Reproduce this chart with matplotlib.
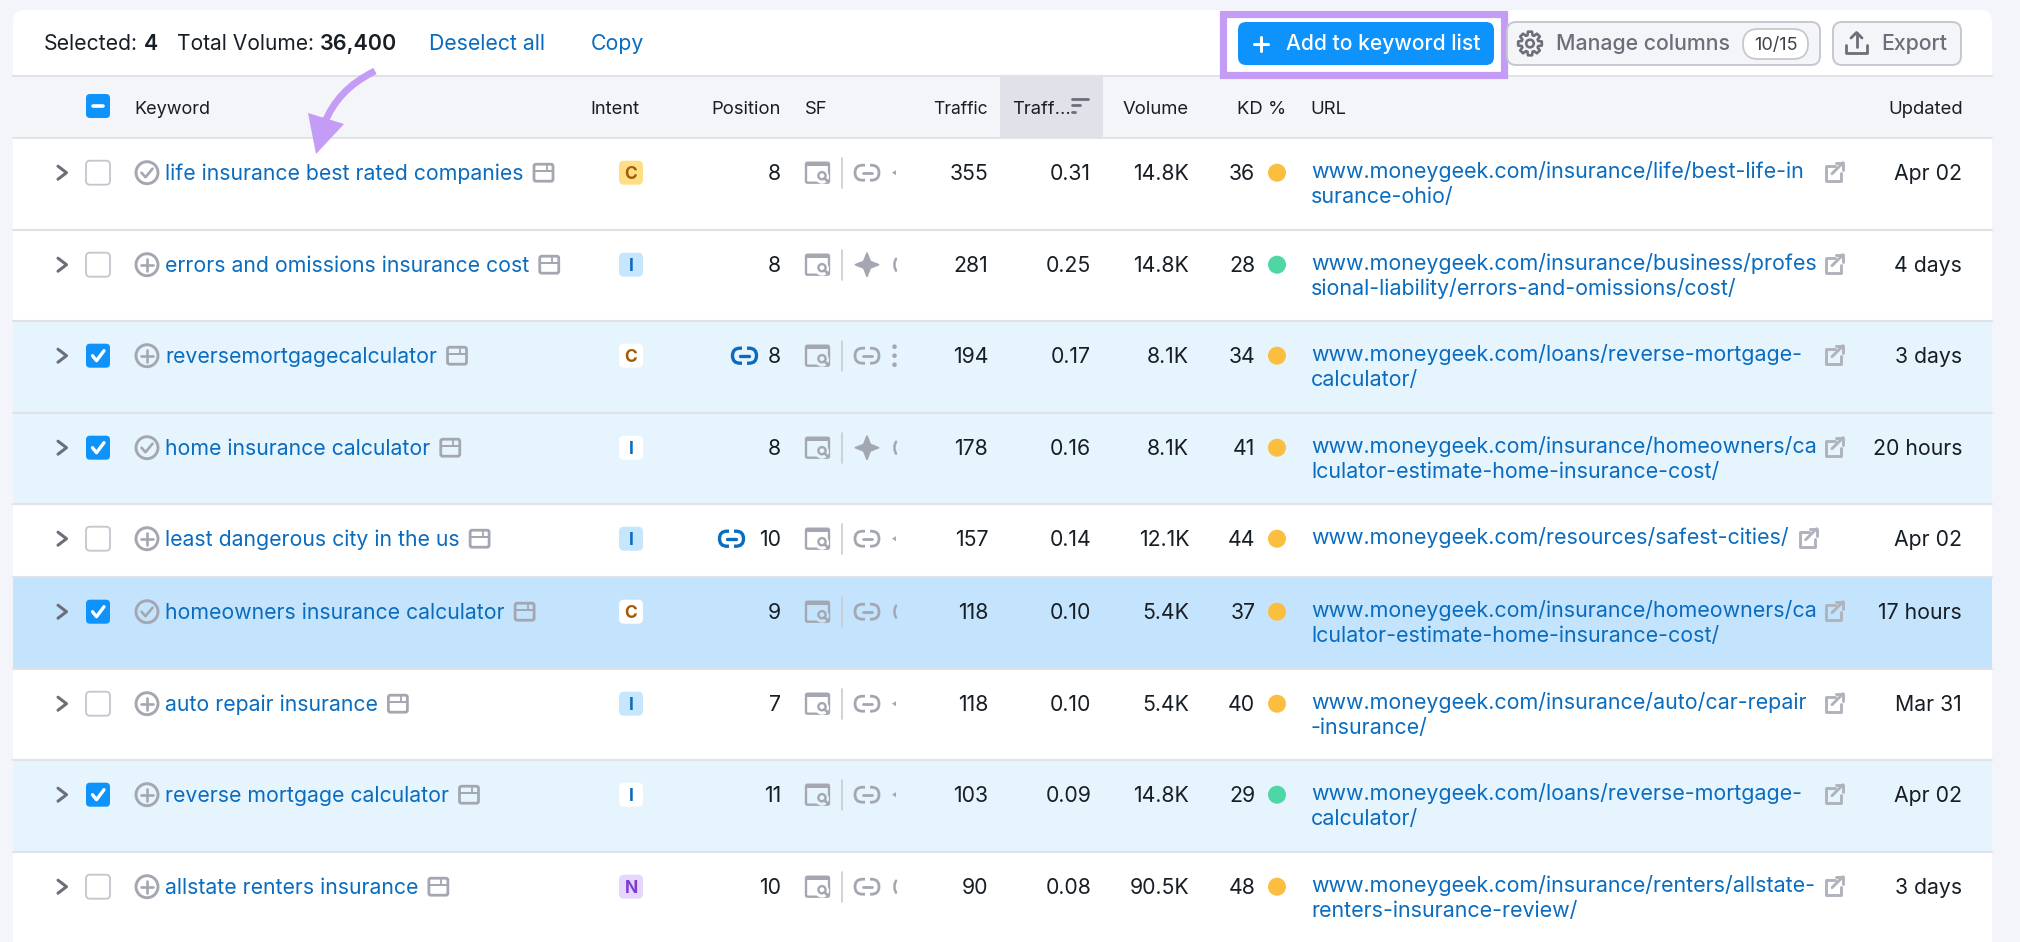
import math
import matplotlib
matplotlib.use("Agg")
import matplotlib.pyplot as plt
from matplotlib.patches import FancyBboxPatch, Circle, Rectangle, Polygon, PathPatch
from matplotlib.path import Path

plt.rcParams['font.family'] = ['Inter', 'DejaVu Sans']

# ---------- data ----------
keywords = ["life insurance best rated companies", "errors and omissions insurance cost",
            "reversemortgagecalculator", "home insurance calculator", "least dangerous city in the us",
            "homeowners insurance calculator", "auto repair insurance", "reverse mortgage calculator",
            "allstate renters insurance"]
added = [True, False, False, True, False, True, False, False, False]
intents = ["C", "I", "C", "I", "I", "C", "I", "I", "N"]
positions = [8, 8, 8, 8, 10, 9, 7, 11, 10]
pos_link = [False, False, True, False, True, False, False, False, False]
sf_second = ["link", "star", "link", "star", "link", "link", "link", "link", "link"]
sf_tail = ["tri", "arc", "dots", "arc", "tri", "arc", "tri", "tri", "arc"]
traffic = [355, 281, 194, 178, 157, 118, 118, 103, 90]
traffic_pct = ["0.31", "0.25", "0.17", "0.16", "0.14", "0.10", "0.10", "0.09", "0.08"]
volume = ["14.8K", "14.8K", "8.1K", "8.1K", "12.1K", "5.4K", "5.4K", "14.8K", "90.5K"]
kd = [36, 28, 34, 41, 44, 37, 40, 29, 48]
urls = [["www.moneygeek.com/insurance/life/best-life-in", "surance-ohio/"],
        ["www.moneygeek.com/insurance/business/profes", "sional-liability/errors-and-omissions/cost/"],
        ["www.moneygeek.com/loans/reverse-mortgage-", "calculator/"],
        ["www.moneygeek.com/insurance/homeowners/ca", "lculator-estimate-home-insurance-cost/"],
        ["www.moneygeek.com/resources/safest-cities/"],
        ["www.moneygeek.com/insurance/homeowners/ca", "lculator-estimate-home-insurance-cost/"],
        ["www.moneygeek.com/insurance/auto/car-repair", "-insurance/"],
        ["www.moneygeek.com/loans/reverse-mortgage-", "calculator/"],
        ["www.moneygeek.com/insurance/renters/allstate-", "renters-insurance-review/"]]
updated = ["Apr 02", "4 days", "3 days", "20 hours", "Apr 02", "17 hours", "Mar 31", "Apr 02", "3 days"]
selected = [False, False, True, True, False, True, False, True, False]
focused = [False, False, False, False, False, True, False, False, False]
row_edges = [138, 230, 321, 413, 504, 577, 669, 760, 852, 942]

# ---------- palette ----------
PAGE = "#f4f5fa"; HEAD = "#f4f5f9"; SORT = "#e1e2e9"; LINE = "#e0e2e8"
INK = "#181e25"; LINK = "#0a6cbf"; BLUE = "#0e92fb"; GRAY = "#a4a7b1"; DGRAY = "#6c6e79"
SEL = "#e6f4fe"; FOC = "#c4e4fd"; PURPLE = "#c49bf5"
BADGE = {"C": ("#ffdf85", "#a35a05"), "I": ("#c5e6fd", "#0f6abf"), "N": ("#e6d5fc", "#7b3fd0")}
FS = 15.3; FSU = 15.45; FSH = 13.3; RO = 1.2

fig = plt.figure(figsize=(20.2, 9.42), dpi=100, facecolor=PAGE)
ax = fig.add_axes([0, 0, 1, 1])
ax.set_xlim(0, 2020); ax.set_ylim(942, 0); ax.axis("off")


def box(x0, y0, x1, y1, r=4, fc="none", ec="none", lw=0, z=2):
    p = FancyBboxPatch((x0, y0), x1 - x0, y1 - y0, boxstyle=f"round,pad=0,rounding_size={r}",
                       fc=fc, ec=ec, lw=lw, zorder=z)
    ax.add_patch(p)
    return p


def txt(x, y, s, ha="left", c=INK, fs=FS, w="normal", z=5):
    return ax.text(x, y, s, ha=ha, va="baseline", color=c, fontsize=fs, fontweight=w, zorder=z)


def line(xs, ys, c=GRAY, lw=1.5, z=4):
    ax.plot(xs, ys, color=c, lw=lw, zorder=z, solid_capstyle="round", solid_joinstyle="round")


def link_icon(cx, cy, c=GRAY, lw=2.0, w=24, h=15):
    box(cx - w / 2, cy - h / 2, cx + w / 2, cy + h / 2, r=h / 2, ec=c, lw=lw, z=4)
    ax.add_patch(Rectangle((cx - 2.5, cy - h / 2 - 2), 5, h + 4, fc=link_bg[0], ec="none", zorder=4.2))
    line([cx - 4.5, cx + 4.5], [cy, cy], c=c, lw=lw, z=4.5)


def serp_icon(cx, cy, bg):
    x0, x1, y0, y1 = cx - 11.5, cx + 11.5, cy - 10, cy + 10
    box(x0, y0, x1, y1, r=1.5, ec=GRAY, lw=1.7, z=4)
    ax.add_patch(Rectangle((x0, y0), x1 - x0, 3.5, fc=GRAY, ec="none", zorder=4))
    ax.add_patch(Circle((cx + 4.5, cy + 4), 7, fc=bg, ec="none", zorder=4.2))
    ax.add_patch(Circle((cx + 4.5, cy + 3), 3.6, fc="none", ec=GRAY, lw=1.7, zorder=4.3))
    line([cx + 7, cx + 10.5], [cy + 5.5, cy + 9], lw=1.9, z=4.3)


def star_icon(cx, cy):
    d = 3.4
    verts = [(cx, cy - 12), (cx + d, cy - d), (cx + 12, cy), (cx + d, cy + d),
             (cx, cy + 12), (cx - d, cy + d), (cx - 12, cy), (cx - d, cy - d)]
    ax.add_patch(Polygon(verts, closed=True, fc=GRAY, ec=GRAY, lw=1, zorder=4))


def window_icon(cx, cy):
    box(cx - 9.5, cy - 8.5, cx + 9.5, cy + 8.5, r=2, ec=GRAY, lw=2, z=4)
    ax.add_patch(Rectangle((cx - 9.5, cy - 3), 19, 2.2, fc=GRAY, ec="none", zorder=4))
    line([cx + 3, cx + 3], [cy - 8, cy - 2], lw=1.3)


def gear_icon(cx, cy, c=DGRAY):
    pts = []
    for k in range(8):
        a = k * math.pi / 4
        for da, r in ((-0.30, 8.6), (-0.17, 12), (0.17, 12), (0.30, 8.6)):
            pts.append((cx + r * math.cos(a + da), cy + r * math.sin(a + da)))
    ax.add_patch(Polygon(pts, closed=True, fc="none", ec=c, lw=1.9, joinstyle="round", zorder=5))
    ax.add_patch(Circle((cx, cy), 3.8, fc="none", ec=c, lw=1.9, zorder=5))


def ext_icon(cx, cy):
    c = "#b0b3bc"
    line([cx + 1, cx - 8, cx - 8, cx + 7, cx + 7], [cy - 6, cy - 6, cy + 9, cy + 9, cy + 1], c=c, lw=2.1)
    line([cx - 2, cx + 9], [cy + 2, cy - 9], c=c, lw=2.1)
    line([cx + 2, cx + 9, cx + 9], [cy - 9, cy - 9, cy - 2], c=c, lw=2.1)


def checkbox(cy, on):
    if on:
        box(86, cy - 12, 110, cy + 12, r=4, fc=BLUE, z=4)
        line([92.5, 96.5, 104], [cy, cy + 5, cy - 5], c="white", lw=2.4, z=5)
    else:
        box(86, cy - 12, 110, cy + 12, r=4, fc="white", ec="#c4c6ce", lw=1.3, z=4)


def end_x(t):
    return t.get_window_extent(fig.canvas.get_renderer()).x1


# ---------- card and header ----------
box(13, 10, 1992, 1000, r=12, fc="white", z=1)
ax.add_patch(Rectangle((13, 77), 1979, 61, fc=HEAD, ec="none", zorder=1.5))
ax.add_patch(Rectangle((1000, 77), 103, 61, fc=SORT, ec="none", zorder=1.6))
line([13, 1992], [76, 76], c=LINE, lw=1.5, z=1.8)
line([13, 1992], [138, 138], c=LINE, lw=1.3, z=1.8)

b = 43 + 7.4
txt(44, b, "Selected:")
txt(144, b, "4", w="semibold")
txt(177, b, "Total Volume:", fs=15.1)
txt(319.5, b, "36,400", w="semibold", fs=15.5)
txt(429, b, "Deselect all", c=LINK)
txt(591, b, "Copy", c=LINK)

# toolbar buttons
ax.add_patch(Rectangle((1223, 14), 281, 60.5, fc="white", ec=PURPLE, lw=5.2, zorder=3))
box(1238, 22, 1494, 65, r=8, fc=BLUE, z=4)
line([1254, 1268], [43.5, 43.5], c="white", lw=2.2, z=5)
line([1261, 1261], [36.5, 50.5], c="white", lw=2.2, z=5)
txt(1286, b, "Add to keyword list", c="white", w="medium", fs=15.15)
box(1507, 22, 1820, 65, r=9, fc="#f4f5f8", ec="#c6c8cf", lw=1.4, z=4)
gear_icon(1530, 43.5)
txt(1556, b, "Manage columns", c=DGRAY, w="medium")
box(1743, 29, 1808, 59, r=15, fc="white", ec="#c6c8cf", lw=1.3, z=5)
txt(1775.5, 43.5 + 6.3, "10/15", ha="center", c="#3f424b", fs=13, z=6)
box(1833, 22, 1961, 65, r=9, fc="#f4f5f8", ec="#c6c8cf", lw=1.4, z=4)
line([1846, 1846, 1867, 1867], [45, 53, 53, 45], c=DGRAY, lw=2, z=5)
line([1856.5, 1856.5], [33, 47], c=DGRAY, lw=2, z=5)
line([1851, 1856.5, 1862], [38, 32.5, 38], c=DGRAY, lw=2, z=5)
txt(1881, b, "Export", c=DGRAY, w="medium")

# column headings
hb = 107 + 6.6
box(86, 94, 110, 118, r=4, fc=BLUE, z=4)
line([93, 103], [106, 106], c="white", lw=2.6, z=5)
txt(134.5, hb, "Keyword", fs=FSH - 0.3)
txt(590, hb, "Intent", fs=FSH)
txt(781, hb, "Position", ha="right", fs=FSH)
txt(805, hb, "SF", fs=FSH)
txt(987.5, hb, "Traffic", ha="right", fs=FSH - 0.7)
txt(1012.5, hb, "Traff...", fs=FSH)
for yy, x1 in ((98.5, 1088), (105, 1080), (111.5, 1075)):
    line([1072, x1], [yy, yy], c=DGRAY, lw=2.0, z=5)
txt(1189, hb, "Volume", ha="right", fs=FSH)
txt(1286.5, hb, "KD %", ha="right", fs=FSH)
txt(1310, hb, "URL", fs=FSH)
txt(1962.5, hb, "Updated", ha="right", fs=FSH)

# ---------- rows ----------
link_bg = ["white"]
for i in range(len(keywords)):
    top, bot = row_edges[i], row_edges[i + 1]
    cy = top + 34.7
    base = cy + 7.0
    bg = FOC if focused[i] else (SEL if selected[i] else "white")
    link_bg[0] = bg
    ax.add_patch(Rectangle((13, top), 1979, bot - top, fc=bg, ec="none", zorder=1.2))
    if i < len(keywords) - 1:
        line([13, 1992], [bot, bot], c=LINE, lw=1.5, z=1.8)

    line([58, 66.5, 58], [cy - 6.5, cy, cy + 6.5], c=DGRAY, lw=2.2)
    checkbox(cy, selected[i])
    ax.add_patch(Circle((147, cy), 11, fc="none", ec=GRAY, lw=2.1, zorder=4))
    if added[i]:
        line([141.5, 145.5, 152.5], [cy, cy + 4.5, cy - 4], lw=1.9)
    else:
        line([141, 153], [cy, cy], lw=1.9)
        line([147, 147], [cy - 6, cy + 6], lw=1.9)
    t = txt(165, base, keywords[i], c=LINK)
    window_icon(end_x(t) + 20, cy)

    fc, tc = BADGE[intents[i]]
    if selected[i]:
        fc = "white"
    box(619, cy - 12, 643, cy + 12, r=5, fc=fc, z=4)
    txt(631, cy + 6, intents[i], ha="center", c=tc, fs=12.5, w="bold")

    t = txt(780 + RO, base, str(positions[i]), ha="right")
    if pos_link[i]:
        link_icon(744.5 - 13 * (len(str(positions[i])) - 1), cy, c=LINK, lw=2.4)
    serp_icon(817.5, cy, bg)
    line([842, 842], [cy - 15, cy + 15], c="#c9cbd2", lw=1.2)
    if sf_second[i] == "link":
        link_icon(867, cy)
    else:
        star_icon(867, cy)
    if sf_tail[i] == "tri":
        ax.add_patch(Polygon([(892, cy), (896, cy - 2.5), (896, cy + 2.5)], fc=GRAY, ec="none", zorder=4))
    elif sf_tail[i] == "arc":
        line([896, 894.5, 894.5, 896], [cy - 6, cy - 2, cy + 2, cy + 6], lw=1.8)
    else:
        for d in (-9, 0, 9):
            ax.add_patch(Circle((894.5, cy + d), 2.3, fc=GRAY, ec="none", zorder=4))

    txt(987 + RO, base, str(traffic[i]), ha="right")
    txt(1090 + RO, base, traffic_pct[i], ha="right")
    txt(1188 + RO, base, volume[i], ha="right")
    txt(1254 + RO, base, str(kd[i]), ha="right")
    ax.add_patch(Circle((1277, cy), 9, fc="#fbbe3f" if kd[i] >= 30 else "#4fd6a5", ec="none", zorder=4))

    t = txt(1311, base - 1.6, urls[i][0], c=LINK, fs=FSU)
    if len(urls[i]) > 1:
        txt(1311, base + 23.6, urls[i][1], c=LINK, fs=FSU)
        ext_icon(1834, cy - 1)
    else:
        ext_icon(end_x(t) + 19, cy - 1)
    txt(1961 + RO, base, updated[i], ha="right")

# ---------- callout arrow ----------
ax.add_patch(PathPatch(Path([(375, 71), (349, 84), (334, 100), (324, 124)],
                            [Path.MOVETO, Path.CURVE4, Path.CURVE4, Path.CURVE4]),
                       fc="none", ec=PURPLE, lw=5, capstyle="butt", zorder=6))
ax.add_patch(Polygon([(308, 113), (344, 124), (316, 154)], fc=PURPLE, ec="none", zorder=6))

fig.savefig("out.png", dpi=100, facecolor=PAGE)
